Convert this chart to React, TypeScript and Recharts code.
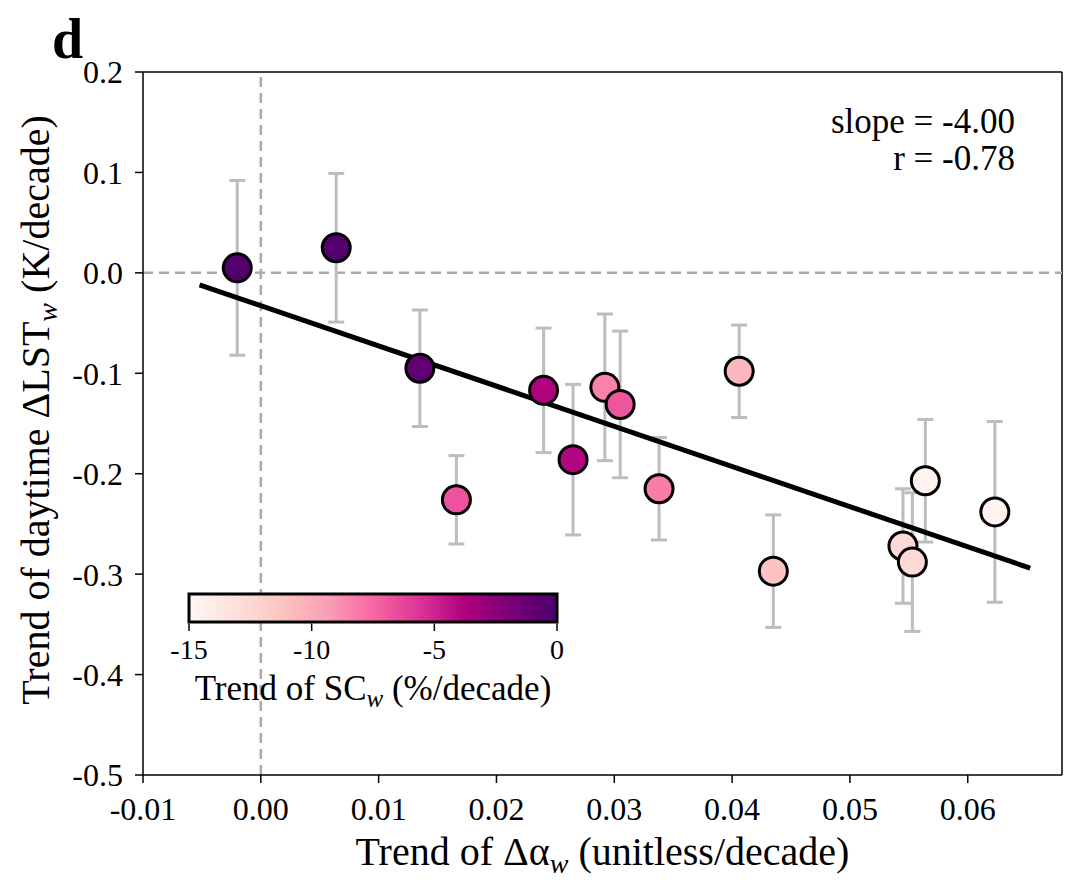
import React from 'react'
import {
  ComposedChart,
  Scatter,
  Line,
  XAxis,
  YAxis,
  ErrorBar,
  ReferenceLine,
} from 'recharts'

// albedo trend (x), daytime LST trend (y), its error, snow cover trend (colour)
const ALBEDO_TREND = [-0.002, 0.0064, 0.0135, 0.0166, 0.024, 0.0265, 0.0292, 0.0305, 0.0338, 0.0406, 0.0435, 0.0545, 0.0553, 0.0564, 0.0623]
const LST_TREND = [0.005, 0.025, -0.095, -0.226, -0.117, -0.186, -0.114, -0.131, -0.215, -0.098, -0.297, -0.272, -0.288, -0.207, -0.238]
const LST_ERR = [0.087, 0.074, 0.058, 0.044, 0.062, 0.075, 0.073, 0.073, 0.051, 0.046, 0.056, 0.057, 0.069, 0.061, 0.09]
const SC_TREND = [-0.3, -0.4, -0.9, -6.7, -3.8, -3.9, -8.4, -6.8, -8.2, -10.6, -11.2, -12.6, -12.6, -14.7, -14.7]

// fitted line end points
const FIT_X = [-0.0052, 0.0653]
const FIT_Y = [-0.012, -0.294]

const X_TICKS = [-0.01, 0, 0.01, 0.02, 0.03, 0.04, 0.05, 0.06]
const Y_TICKS = [-0.5, -0.4, -0.3, -0.2, -0.1, 0, 0.1, 0.2]
const CB_TICKS = [-15, -10, -5, 0]
const CB_MIN = -15
const CB_MAX = 0

// matplotlib RdPu
const RDPU = ['#fff7f3', '#fde0dd', '#fcc5c0', '#fa9fb5', '#f768a1', '#dd3497', '#ae017e', '#7a0177', '#49006a']

const FONT = '"Liberation Serif", "DejaVu Serif", "Times New Roman", serif'

function hexToRgb(h: string) {
  const n = parseInt(h.slice(1), 16)
  return [(n >> 16) & 255, (n >> 8) & 255, n & 255]
}

function rdpu(v: number) {
  const t = Math.min(1, Math.max(0, (v - CB_MIN) / (CB_MAX - CB_MIN)))
  const pos = t * (RDPU.length - 1)
  const i = Math.min(RDPU.length - 2, Math.floor(pos))
  const f = pos - i
  const a = hexToRgb(RDPU[i])
  const b = hexToRgb(RDPU[i + 1])
  const c = a.map((ch, k) => Math.round(ch + (b[k] - ch) * f))
  return `rgb(${c[0]},${c[1]},${c[2]})`
}

const points = ALBEDO_TREND.map((x, i) => ({
  x,
  y: LST_TREND[i],
  err: LST_ERR[i],
  sc: SC_TREND[i],
}))

const fitLine = FIT_X.map((x, i) => ({ x, y: FIT_Y[i] }))

const Dot = (props: any) => {
  const { cx, cy, payload } = props
  return <circle cx={cx} cy={cy} r={14} fill={rdpu(payload.sc)} stroke="#000" strokeWidth={3} />
}

const XLabel = (props: any) => {
  const { x, width } = props.viewBox
  return (
    <text x={x + width / 2} y={865} textAnchor="middle" fontSize={40} fontFamily={FONT} fill="#000">
      Trend of Δα
      <tspan fontStyle="italic" fontSize={28} dy={8}>w</tspan>
      <tspan dy={-8}> (unitless/decade)</tspan>
    </text>
  )
}

const YLabel = () => {
  const cx = 49
  const cy = 410
  return (
    <text
      x={cx}
      y={cy}
      transform={`rotate(-90, ${cx}, ${cy})`}
      textAnchor="middle"
      fontSize={40}
      fontFamily={FONT}
      fill="#000"
    >
      Trend of daytime ΔLST
      <tspan fontStyle="italic" fontSize={28} dy={8}>w</tspan>
      <tspan dy={-8}> (K/decade)</tspan>
    </text>
  )
}

function Overlay() {
  const left = 189
  const right = 557
  const top = 594
  const bottom = 622
  const pos = (v: number) => left + ((v - CB_MIN) / (CB_MAX - CB_MIN)) * (right - left)
  return (
    <svg width={1080} height={895} style={{ position: 'absolute', left: 0, top: 0, pointerEvents: 'none' }}>
      <defs>
        <linearGradient id="rdpu" x1="0" x2="1" y1="0" y2="0">
          {RDPU.map((c, i) => (
            <stop key={i} offset={i / (RDPU.length - 1)} stopColor={c} />
          ))}
        </linearGradient>
      </defs>
      <rect x={left} y={top} width={right - left} height={bottom - top} fill="url(#rdpu)" stroke="#000" strokeWidth={3} />
      {CB_TICKS.map((t) => (
        <g key={t}>
          <line x1={pos(t)} x2={pos(t)} y1={bottom + 1.5} y2={bottom + 9} stroke="#000" strokeWidth={1.5} />
          <text x={pos(t)} y={659} textAnchor="middle" fontSize={28} fontFamily={FONT} fill="#000">
            {t}
          </text>
        </g>
      ))}
      <text x={(left + right) / 2} y={700} textAnchor="middle" fontSize={35} fontFamily={FONT} fill="#000">
        Trend of SC
        <tspan fontStyle="italic" fontSize={25} dy={7}>w</tspan>
        <tspan dy={-7}> (%/decade)</tspan>
      </text>
      <text x={52} y={58} fontSize={56} fontWeight="bold" fontFamily={FONT} fill="#000">
        d
      </text>
      <text x={1015} y={133} textAnchor="end" fontSize={35} fontFamily={FONT} fill="#000">
        slope = -4.00
      </text>
      <text x={1015} y={170} textAnchor="end" fontSize={35} fontFamily={FONT} fill="#000">
        r = -0.78
      </text>
      <YLabel />
    </svg>
  )
}

export default function App() {
  const tick = { fontSize: 32, fill: '#000', fontFamily: FONT }
  return (
    <div style={{ position: 'absolute', left: 0, top: 0, width: 1080, height: 895, background: '#fff' }}>
      <ComposedChart width={1080} height={895} margin={{ top: 72, right: 18, bottom: 60, left: 73 }}>
        <XAxis
          type="number"
          dataKey="x"
          domain={[-0.01, 0.068]}
          ticks={X_TICKS}
          tickFormatter={(v: number) => v.toFixed(2)}
          allowDataOverflow
          tick={tick}
          tickSize={8}
          tickMargin={14}
          height={60}
          axisLine={{ stroke: '#000', strokeWidth: 1.5 }}
          tickLine={{ stroke: '#000', strokeWidth: 1.5 }}
          label={<XLabel />}
        />
        <YAxis
          type="number"
          dataKey="y"
          domain={[-0.5, 0.2]}
          ticks={Y_TICKS}
          tickFormatter={(v: number) => v.toFixed(1)}
          allowDataOverflow
          tick={tick}
          tickSize={8}
          tickMargin={12}
          width={70}
          axisLine={{ stroke: '#000', strokeWidth: 1.5 }}
          tickLine={{ stroke: '#000', strokeWidth: 1.5 }}
        />
        <ReferenceLine y={0.2} stroke="#000" strokeWidth={1.5} />
        <ReferenceLine x={0.068} stroke="#000" strokeWidth={1.5} />
        <ReferenceLine x={0} stroke="#aaaaaa" strokeWidth={2.5} strokeDasharray="10 6" />
        <ReferenceLine y={0} stroke="#aaaaaa" strokeWidth={2.5} strokeDasharray="10 6" />
        <Scatter data={points} dataKey="y" shape={<Dot />} isAnimationActive={false}>
          <ErrorBar dataKey="err" direction="y" width={8} stroke="#bdbdbd" strokeWidth={3} />
        </Scatter>
        <Line data={fitLine} dataKey="y" stroke="#000" strokeWidth={5} dot={false} isAnimationActive={false} />
      </ComposedChart>
      <Overlay />
    </div>
  )
}
